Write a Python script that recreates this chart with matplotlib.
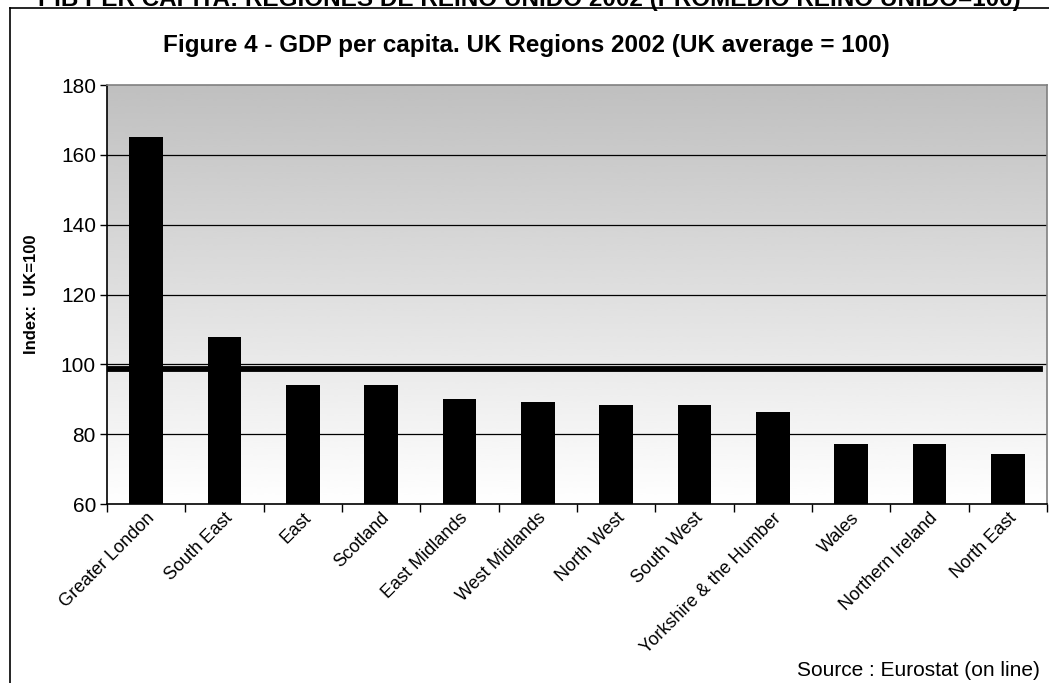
import matplotlib

matplotlib.use("Agg")
import matplotlib.pyplot as plt  # noqa: E402
import numpy as np  # noqa: E402

plt.rcParams["font.family"] = ["Liberation Sans", "DejaVu Sans"]

regions = ["Greater London", "South East", "East", "Scotland", "East Midlands",
           "West Midlands", "North West", "South West", "Yorkshire & the Humber",
           "Wales", "Northern Ireland", "North East"]
gdp_index = [165.2, 107.9, 94.0, 94.0, 90.0, 89.3, 88.4, 88.4, 86.3, 77.2, 77.2, 74.3]
uk_line = 98.8
y_ticks = [60, 80, 100, 120, 140, 160, 180]

fig = plt.figure(figsize=(10.49, 6.83), dpi=100)

# banner title cut off at the top of the image
fig.text(0.505, 1 - 6 / 683, "PIB PER CAPITA: REGIONES DE REINO UNIDO 2002 (PROMEDIO REINO UNIDO=100)",
         ha="center", va="baseline", fontsize=17.5, fontweight="bold")
# chart box border
fig.add_artist(plt.Line2D([0.0095, 1.0], [0.988, 0.988], color="black", lw=1.2,
                          transform=fig.transFigure))
fig.add_artist(plt.Line2D([0.0095, 0.0095], [0.0, 0.988], color="black", lw=1.2,
                          transform=fig.transFigure))

ax = fig.add_axes([0.102, 0.262, 0.896, 0.6135])
x = np.arange(len(regions))

# gradient background: grey at top to white at bottom
grad = np.linspace(0.75, 1.0, 256).reshape(-1, 1)
ax.imshow(grad, extent=[-0.5, len(regions) - 0.5, 60, 180], origin="upper", cmap="gray",
          vmin=0, vmax=1, aspect="auto", zorder=0, interpolation="bicubic")

for t in y_ticks[1:-1]:
    ax.axhline(t, color="black", lw=0.9, zorder=1)

ax.bar(x, gdp_index, width=0.43, color="black", zorder=2)
ax.axhline(uk_line, xmin=0, xmax=0.993, color="black", lw=4.2, zorder=3)

ax.set_xlim(-0.5, len(regions) - 0.5)
ax.set_ylim(60, 180)
ax.set_yticks(y_ticks)
ax.tick_params(axis="y", labelsize=15, length=5, width=1, direction="out", pad=3)
ax.set_xticks(x)
ax.set_xticklabels(regions, rotation=45, ha="right", rotation_mode="anchor", fontsize=13)
ax.tick_params(axis="x", length=0, pad=4)
ax.set_xticks(np.arange(len(regions) + 1) - 0.5, minor=True)
ax.tick_params(axis="x", which="minor", length=6, width=1, direction="out")

for side in ("top", "right"):
    ax.spines[side].set_color("#808080")
    ax.spines[side].set_linewidth(1.2)
ax.spines["left"].set_linewidth(1.2)
ax.spines["bottom"].set_linewidth(1.2)

ax.set_ylabel("Index:  UK=100", fontsize=12, fontweight="bold")
ax.yaxis.set_label_coords(-0.072, 0.5)

fig.text(0.502, 0.933, "Figure 4 - GDP per capita. UK Regions 2002 (UK average = 100)",
         ha="center", va="center", fontsize=17.5, fontweight="bold")
fig.text(0.991, 0.019, "Source : Eurostat (on line)", ha="right", va="center", fontsize=15)

fig.savefig("out.png", dpi=100)
plt.close(fig)
